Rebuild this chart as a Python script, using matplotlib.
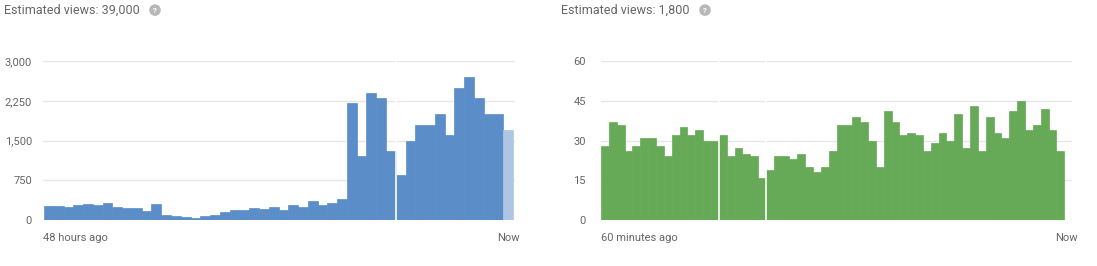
import numpy as np
import matplotlib.pyplot as plt

plt.rcParams["font.family"] = ["Roboto", "DejaVu Sans"]

# Left panel: hourly views, last 48 hours (last bar = partial hour)
hourly_views = [
    260, 260, 250, 290, 300, 280, 315, 250, 220, 230, 175, 295,
    95, 70, 60, 38, 82, 94, 145, 182, 195, 226, 214, 240,
    189, 277, 250, 365, 290, 327, 402, 2200, 1200, 2400, 2300, 1300,
    850, 1500, 1800, 1800, 2000, 1600, 2500, 2700, 2300, 2000, 2000, 1700,
]
hourly_slots = 48
hourly_gaps = [36]
hourly_ticks = [0, 750, 1500, 2250, 3000]
hourly_ticklabels = ["0", "750", "1,500", "2,250", "3,000"]

# Right panel: views per minute, last 60 minutes
minute_views = [
    28, 37, 36, 26, 28, 31, 31, 28, 24, 32, 35, 32, 34, 30, 30,
    32, 24, 27, 25, 24, 16,
    19, 24, 24, 23, 25, 20, 18, 20, 26, 36, 36, 39, 37, 30, 20,
    41, 37, 32, 33, 32, 26, 29, 33, 30, 40, 27, 43, 26, 39, 33,
    31, 41, 45, 34, 36, 42, 34, 26,
]
minute_slots = 60
minute_gaps = [15, 21]
minute_ticks = [0, 15, 30, 45, 60]

blue = "#5b8dc9"
blue_light = "#aec6e4"
green = "#66aa58"
text_grey = "#666666"
grid_grey = "#e6e6e6"

fig = plt.figure(figsize=(10.97, 2.66), dpi=100)
ax1 = fig.add_axes([0.0392, 0.1729, 0.4303, 0.5977])
ax2 = fig.add_axes([0.5479, 0.1729, 0.4294, 0.5977])


def style_axis(ax, ticks, labels, pad):
    ax.set_ylim(0, ticks[-1])
    ax.set_yticks(ticks)
    ax.set_yticklabels(labels)
    ax.set_xticks([])
    ax.tick_params(axis="y", length=0, pad=pad, labelsize=8, labelcolor=text_grey)
    ax.yaxis.grid(True, color=grid_grey, lw=1)
    ax.set_axisbelow(True)
    for s in ax.spines.values():
        s.set_visible(False)


# hourly chart
x1 = np.arange(len(hourly_views))
c1 = [blue] * (len(hourly_views) - 1) + [blue_light]
ax1.bar(x1, hourly_views, width=1.0, align="edge", color=c1, edgecolor=c1, lw=0.5)
for g in hourly_gaps:
    ax1.axvline(g, color="white", lw=1.2)
style_axis(ax1, hourly_ticks, hourly_ticklabels, 8)
ax1.set_xlim(-0.1, hourly_slots + 0.2)
ax1.text(0.0, -0.115, "48 hours ago", transform=ax1.transAxes, ha="left", va="center",
         fontsize=8, color=text_grey)
ax1.text(1.009, -0.115, "Now", transform=ax1.transAxes, ha="right", va="center",
         fontsize=8, color=text_grey)

# minute chart
x2 = np.arange(len(minute_views))
ax2.bar(x2, minute_views, width=1.0, align="edge", color=green, edgecolor=green, lw=0.5)
for g in minute_gaps:
    ax2.axvline(g, color="white", lw=1.2)
style_axis(ax2, minute_ticks, [str(t) for t in minute_ticks], 11)
ax2.set_xlim(0, minute_slots)
ax2.text(0.0, -0.115, "60 minutes ago", transform=ax2.transAxes, ha="left", va="center",
         fontsize=8, color=text_grey)
ax2.text(1.011, -0.115, "Now", transform=ax2.transAxes, ha="right", va="center",
         fontsize=8, color=text_grey)

# headers
fig.text(4 / 1097, 0.962, "Estimated views: 39,000", ha="left", va="center",
         fontsize=9, color=text_grey)
fig.text(561 / 1097, 0.962, "Estimated views: 1,800", ha="left", va="center",
         fontsize=9, color=text_grey)
for xp in (155, 705):
    fig.text(xp / 1097, 0.962, "?", ha="center", va="center", fontsize=5.5,
             color="white", weight="bold",
             bbox=dict(boxstyle="circle,pad=0.3", fc="#b8b8b8", ec="none"))

fig.savefig("out.png", dpi=100)
